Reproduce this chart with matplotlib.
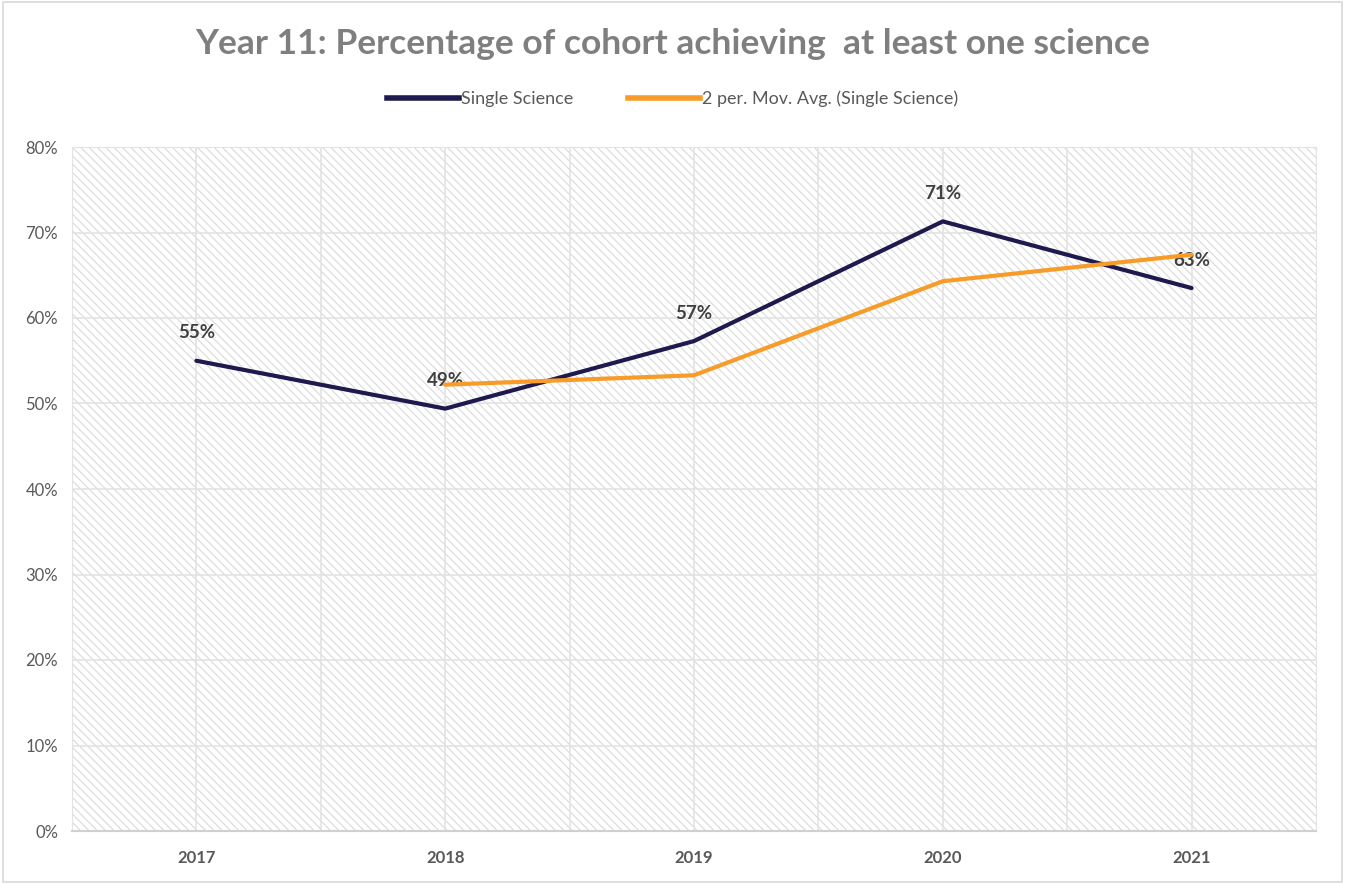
import matplotlib
matplotlib.use("Agg")
import matplotlib.pyplot as plt
from matplotlib.patches import Rectangle
from matplotlib.lines import Line2D

years = ["2017", "2018", "2019", "2020", "2021"]
single_science = [55.0, 49.4, 57.3, 71.3, 63.5]
mov_avg = [None, 52.2, 53.3, 64.3, 67.4]
labels = ["55%", "49%", "57%", "71%", "63%"]

NAVY = "#1f1a4d"
ORANGE = "#f79c28"
GREY = "#595959"

plt.rcParams["font.family"] = ["Lato", "DejaVu Sans"]
plt.rcParams["hatch.color"] = "#d9d9d9"
plt.rcParams["hatch.linewidth"] = 0.8

fig = plt.figure(figsize=(13.45, 8.84), dpi=100)
ax = fig.add_axes([72 / 1345, 1 - 831 / 884, (1316 - 72) / 1345, (831 - 147) / 884])

# outer chart border
fig.patches.append(Rectangle((0.002, 0.002), 0.996, 0.996, transform=fig.transFigure,
                             fill=False, edgecolor="#d9d9d9", linewidth=1.2))

# hatched plot area
ax.add_patch(Rectangle((0, 0), 1, 1, transform=ax.transAxes, facecolor="white",
                       hatch="\\\\\\\\", edgecolor="#d9d9d9", linewidth=0, zorder=0))

x = list(range(len(years)))
ax.set_xlim(-0.5, len(years) - 0.5)
ax.set_ylim(0, 80)

# gridlines: horizontal every 10%, vertical at categories and midpoints
for yv in range(10, 81, 10):
    ax.axhline(yv, color="#e3e3e3", linewidth=1.2, zorder=1)
for i in range(1, 2 * len(years)):
    ax.axvline(-0.5 + i * 0.5, color="#e3e3e3", linewidth=1.2, zorder=1)

# data labels sit under the lines, like the original
for i, (v, lab) in enumerate(zip(single_science, labels)):
    ax.annotate(lab, (i, v), xytext=(0, 20), textcoords="offset points",
                ha="center", va="center", fontsize=13.5, fontweight="bold",
                color="#404040", zorder=2)

ax.plot(x, single_science, color=NAVY, linewidth=3, solid_capstyle="round", zorder=3)
xm = [i for i, v in enumerate(mov_avg) if v is not None]
ym = [v for v in mov_avg if v is not None]
ax.plot(xm, ym, color=ORANGE, linewidth=3, solid_capstyle="round", zorder=3)

ax.set_xticks(x)
ax.set_xticklabels(years, fontsize=12, fontweight="bold", color=GREY)
ax.set_yticks(range(0, 81, 10))
ax.set_yticklabels([f"{v}%" for v in range(0, 81, 10)], fontsize=12, color=GREY)
ax.tick_params(length=0, pad=14)
ax.tick_params(axis="y", pad=10)

for side in ["top", "right", "left"]:
    ax.spines[side].set_color("#e3e3e3")
ax.spines["bottom"].set_color("#d0d0d0")
ax.spines["bottom"].set_linewidth(1.5)

fig.text(0.5, 1 - 44 / 884, "Year 11: Percentage of cohort achieving  at least one science",
         ha="center", va="center", fontsize=25.5, fontweight="bold", color="#7f7f7f")

handles = [Line2D([], [], color=NAVY, linewidth=4),
           Line2D([], [], color=ORANGE, linewidth=4)]
fig.legend(handles, ["Single Science", "2 per. Mov. Avg. (Single Science)"],
           loc="center", bbox_to_anchor=(0.5, 1 - 99 / 884), ncol=2, frameon=False,
           fontsize=13, labelcolor=GREY, handlelength=4, handletextpad=0.1,
           columnspacing=3)

fig.savefig("out.png", dpi=100)
